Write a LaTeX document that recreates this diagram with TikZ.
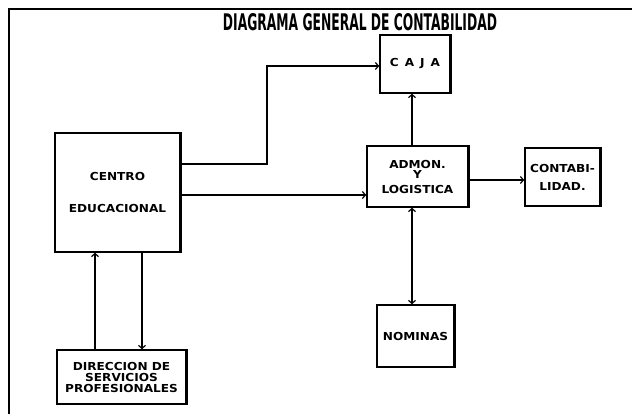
\documentclass[tikz,border=0pt]{standalone}
\usepackage{graphicx}
\usepackage{fontspec}
\setmainfont{DejaVu Sans}
\newfontfamily\boxfont[FakeStretch=1.1]{DejaVu Sans}
\usetikzlibrary{arrows.meta}
\tikzset{
  blk/.style={draw, line width=1.6pt, rectangle, inner sep=0pt, align=center,
    font=\boxfont\bfseries\fontsize{11}{12}\selectfont},
  conn/.style={line width=1.6pt},
  arr/.style={conn, -{Straight Barb[length=3pt,width=7pt,line width=1.2pt]}},
  arrb/.style={conn, {Straight Barb[length=3pt,width=7pt,line width=1.2pt]}-{Straight Barb[length=3pt,width=7pt,line width=1.2pt]}},
  frame/.style={line width=1.4pt},
  shade/.style={line width=2.6pt}
}
\begin{document}
\begin{tikzpicture}[x=1pt,y=-1pt]
\useasboundingbox (0,0) rectangle (632,414);
\fill[white] (0,0) rectangle (632,414);
% frame
\coordinate (fa) at (9,414);
\coordinate (fb) at (9,9);
\coordinate (fc) at (632,9);
\draw[frame] (fa) -- (fb) -- (fc);
% title
\node[fill=white, inner sep=1pt] (title) at (360,22)
  {\resizebox{274pt}{17pt}{\bfseries DIAGRAMA GENERAL DE CONTABILIDAD}};
% boxes
\node[blk, minimum width=70pt, minimum height=58pt] (caja) at (415,64)
  {C\hspace{6pt}A\hspace{6pt}J\hspace{6pt}A};
\node[blk, minimum width=101pt, minimum height=61pt] (admon) at (417.5,176.5)
  {ADMON.\\[-2pt]Y\\[3pt]LOGISTICA};
\node[blk, minimum width=75pt, minimum height=58pt] (conta) at (562.5,177)
  {CONTABI-\\[6pt]LIDAD.};
\node[blk, minimum width=125pt, minimum height=119pt] (centro) at (117.5,192.5)
  {CENTRO\\[20pt]EDUCACIONAL};
\node[blk, minimum width=129pt, minimum height=54pt] (direc) at (121.5,377)
  {DIRECCION DE\\[-1pt]SERVICIOS\\[-1pt]PROFESIONALES};
\node[blk, minimum width=77pt, minimum height=62pt] (nominas) at (415.5,336)
  {NOMINAS};
% thicker right edges
\foreach \n in {caja,admon,conta,centro,direc,nominas}
  \draw[shade] (\n.north east) -- (\n.south east);
% helper coordinates
\coordinate (r1) at (0,164);
\coordinate (k1) at (267,66);
\coordinate (r2) at (0,195);
\coordinate (r3) at (0,180);
\coordinate (v) at (412,0);
\coordinate (d1) at (95,0);
\coordinate (d2) at (142,0);
% connectors
\draw[arr] (centro.east |- r1) -| (k1) -- (caja.west |- k1);
\draw[arr] (centro.east |- r2) -- (admon.west |- r2);
\draw[arr] (admon.north -| v) -- (caja.south -| v);
\draw[arr] (admon.east |- r3) -- (conta.west |- r3);
\draw[arrb] (admon.south -| v) -- (nominas.north -| v);
\draw[arr] (direc.north -| d1) -- (centro.south -| d1);
\draw[arr] (centro.south -| d2) -- (direc.north -| d2);
\end{tikzpicture}
\end{document}
